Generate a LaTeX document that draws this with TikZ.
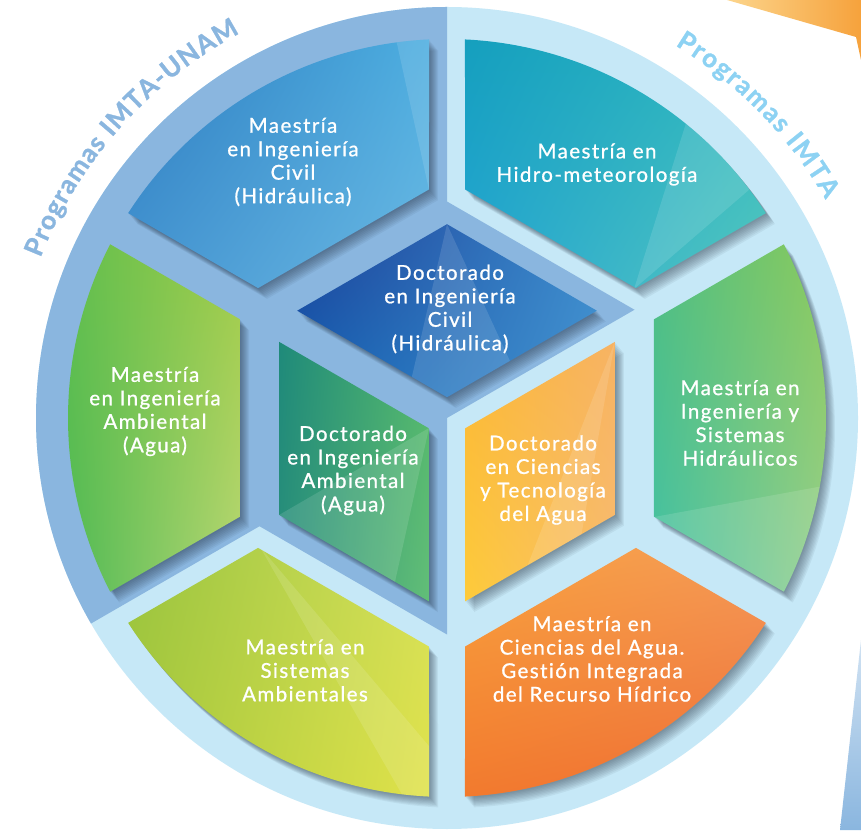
\documentclass[tikz,border=0pt]{standalone}
\usepackage{fontspec}
\setmainfont{Lato}
\newfontfamily\labfont[LetterSpace=7,FakeBold=0.9,Ligatures=NoCommon]{Lato}
\newfontfamily\titfont[BoldFeatures={FakeBold=1.2}]{Lato}
\usetikzlibrary{decorations.text,shadings}
\definecolor{ringdark}{HTML}{8AB6DF}
\definecolor{ringlight}{HTML}{C6E8F7}
\definecolor{titdark}{HTML}{8AB6DF}
\definecolor{titlight}{HTML}{8DD2F3}
\definecolor{shadowc}{HTML}{1A2535}
\definecolor{civUL}{HTML}{2E7CC0}\definecolor{civUR}{HTML}{4DAEE0}\definecolor{civLL}{HTML}{4596D2}\definecolor{civLR}{HTML}{6BB8E2}
\definecolor{hidUL}{HTML}{159FBE}\definecolor{hidUR}{HTML}{2DB7C0}\definecolor{hidLL}{HTML}{25A6D3}\definecolor{hidLR}{HTML}{55C7BE}
\definecolor{sisUL}{HTML}{50BE80}\definecolor{sisUR}{HTML}{8FCB5A}\definecolor{sisLL}{HTML}{45C2A5}\definecolor{sisLR}{HTML}{9DD08A}
\definecolor{cieUL}{HTML}{F8A23E}\definecolor{cieUR}{HTML}{F49A58}\definecolor{cieLL}{HTML}{F27A2E}\definecolor{cieLR}{HTML}{EF6E36}
\definecolor{samUL}{HTML}{99C43F}\definecolor{samUR}{HTML}{D5E05A}\definecolor{samLL}{HTML}{A9C93C}\definecolor{samLR}{HTML}{E0E24A}
\definecolor{iamUL}{HTML}{5DBE4F}\definecolor{iamUR}{HTML}{9FCB48}\definecolor{iamLL}{HTML}{49B853}\definecolor{iamLR}{HTML}{B6D774}
\definecolor{dcvUL}{HTML}{1E3F98}\definecolor{dcvUR}{HTML}{3A8ACC}\definecolor{dcvLL}{HTML}{1565B5}\definecolor{dcvLR}{HTML}{4592CF}
\definecolor{damUL}{HTML}{1F8A7A}\definecolor{damUR}{HTML}{52B76A}\definecolor{damLL}{HTML}{2A8F7A}\definecolor{damLR}{HTML}{62BE78}
\definecolor{dctUL}{HTML}{FBB637}\definecolor{dctUR}{HTML}{F7B363}\definecolor{dctLL}{HTML}{FDCB3A}\definecolor{dctLR}{HTML}{F8BC70}
\definecolor{orgA}{HTML}{FCD58C}\definecolor{orgB}{HTML}{F6A23C}
\tikzset{
  opiece/.style={insert path={(#1-25.49:229.3) -- (#1+25.49:229.3) -- (#1+27.28:379) arc[start angle=#1+27.28, end angle=#1-27.28, radius=379] -- cycle}},
  facetop/.style={insert path={(0,20.8) -- (149.82,107.3) -- (0,193.8) -- (-149.82,107.3) -- cycle}},
  faceleft/.style={insert path={(-18.01,-10.4) -- (-167.83,76.1) -- (-167.83,-96.9) -- (-18.01,-183.4) -- cycle}},
  faceright/.style={insert path={(18.01,-10.4) -- (167.83,76.1) -- (167.83,-96.9) -- (18.01,-183.4) -- cycle}},
  four/.style={upper left=#1UL, upper right=#1UR, lower left=#1LL, lower right=#1LR},
  lab/.style={text=white, align=center, inner sep=0pt, font=\labfont\fontsize{20.5}{23.5}\selectfont},
  facet/.style={fill=white, opacity=0.12},
}
\begin{document}
\begin{tikzpicture}[x=1pt,y=1pt]
\useasboundingbox (0,0) rectangle (861,830);
\fill[white] (0,0) rectangle (861,830);
% background decorations
\shade[left color=orgA, right color=orgB] (727,830) -- (861,830) -- (861,770) -- (856,793) -- cycle;
\shade[top color=ringdark!40, bottom color=ringdark] (861,190) -- (840,0) -- (861,0) -- cycle;
\begin{scope}[shift={(447,412)}]
  % ring
  \fill[ringlight] (0,0) circle (411);
  \begin{scope}
    \clip (0,0) circle (411);
    \fill[ringdark] (0,216.5) -- (187.5,108.25) -- (0,0) -- (0,-216.5) -- (-187.5,-108.25) -- (210:600) -- (180:600) -- (150:600) -- (120:600) -- (90:600) -- cycle;
  \end{scope}
  % shadows
  \foreach \k in {1,...,9}{
    \foreach \a in {120,60,0,-60,-120,180}{
      \fill[shadowc, opacity=0.06, shift={(1.0*\k,-1.2*\k)}, opiece=\a];
    }
    \fill[shadowc, opacity=0.06, shift={(1.0*\k,-1.2*\k)}, facetop];
    \fill[shadowc, opacity=0.06, shift={(1.0*\k,-1.2*\k)}, faceleft];
    \fill[shadowc, opacity=0.06, shift={(1.0*\k,-1.2*\k)}, faceright];
  }
  % outer pieces
  \shade[four=civ, opiece=120];
  \shade[four=hid, opiece=60];
  \shade[four=sis, opiece=0];
  \shade[four=cie, opiece=-60];
  \shade[four=sam, opiece=-120];
  \shade[four=iam, opiece=180];
  % cube faces
  \shade[four=dcv, facetop];
  \shade[four=dam, faceleft];
  \shade[four=dct, faceright];
  % facets
  \begin{scope}\clip[opiece=120]; \fill[facet] (-18,228) -- (-60,420) -- (60,420) -- cycle; \end{scope}
  \begin{scope}\clip[opiece=60]; \fill[facet] (187,129) -- (250,330) -- (420,330) -- cycle; \end{scope}
  \begin{scope}\clip[opiece=0]; \fill[facet] (207,-99) -- (420,-60) -- (420,-420) -- cycle; \end{scope}
  \begin{scope}\clip[opiece=-60]; \fill[facet] (187,-129) -- (420,-140) -- (420,-40) -- cycle; \end{scope}
  \begin{scope}\clip[opiece=-120]; \fill[facet] (-187,-129) -- (-20,-420) -- (60,-420) -- cycle; \end{scope}
  \begin{scope}\clip[opiece=180]; \fill[facet] (-207,-99) -- (-420,-420) -- (-250,-420) -- cycle; \end{scope}
  \begin{scope}\clip[facetop]; \fill[facet] (0,193.8) -- (-40,20) -- (80,20) -- cycle; \end{scope}
  \begin{scope}\clip[faceleft]; \fill[facet] (-167.83,-96.9) -- (-60,-200) -- (-18,-10) -- cycle; \end{scope}
  \begin{scope}\clip[faceright]; \fill[facet] (167.83,76.1) -- (120,-200) -- (60,-200) -- cycle; \end{scope}
  % labels
  \node[lab] (mic) at (-154,256) {Maestría\\en Ingeniería\\Civil\\(Hidráulica)};
  \node[lab] (mhm) at (150,253.5) {Maestría en\\Hidro-meteorología};
  \node[lab] (dic) at (3,109) {Doctorado\\en Ingeniería\\Civil\\(Hidráulica)};
  \node[lab] (mia) at (-292,6.5) {Maestría\\en Ingeniería\\Ambiental\\(Agua)};
  \node[lab] (dia) at (-94,-52.5) {Doctorado\\en Ingeniería\\Ambiental\\(Agua)};
  \node[lab] (dct) at (96,-62) {Doctorado\\en Ciencias\\y Tecnología\\del Agua};
  \node[lab] (mis) at (293,-5) {Maestría en\\Ingeniería y\\Sistemas\\Hidráulicos};
  \node[lab] (msa) at (-142,-252.5) {Maestría en\\Sistemas\\Ambientales};
  \node[lab] (mca) at (145,-241) {Maestría en\\Ciencias del Agua.\\Gestión Integrada\\del Recurso Hídrico};
  % titles
  \path[decorate, decoration={text along path, text color=titdark, text align={fit to path},
     text={|\titfont\bfseries\fontsize{26}{26}\selectfont|Programas IMTA-UNAM}}]
     (158.5:437) arc[start angle=158.5, end angle=118.3, radius=437];
  \path[decorate, decoration={text along path, text color=titlight, text align={fit to path},
     text={|\titfont\bfseries\fontsize{26}{26}\selectfont|Programas IMTA}}]
     (58.5:437) arc[start angle=58.5, end angle=30, radius=437];
\end{scope}
\end{tikzpicture}
\end{document}
